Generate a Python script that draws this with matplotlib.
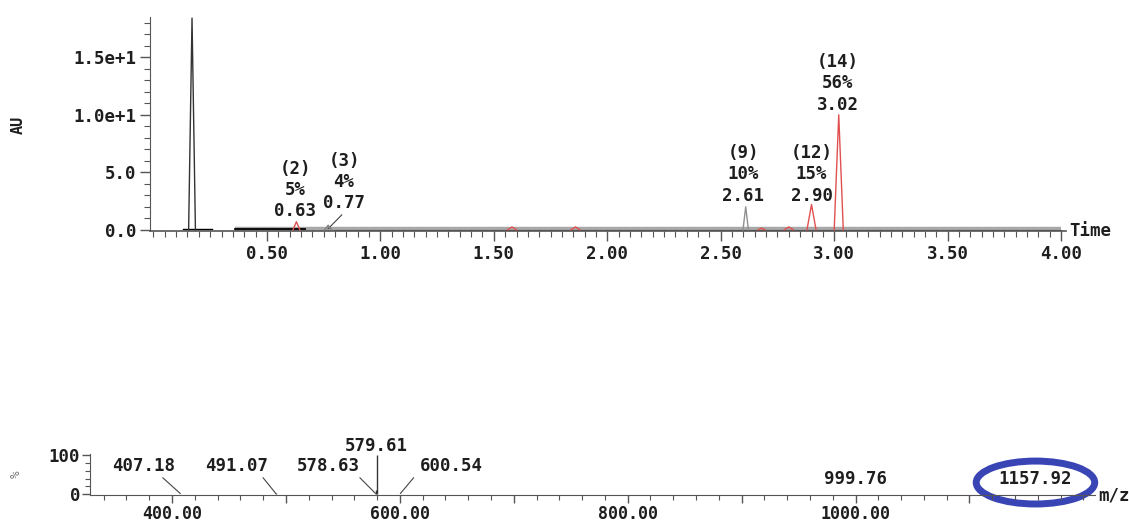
import matplotlib
matplotlib.use("Agg")
import matplotlib.pyplot as plt
from matplotlib.patches import Ellipse
from matplotlib.ticker import MultipleLocator, FixedLocator, FixedFormatter

# ---- chromatogram (UV trace, AU vs. retention time) ----
peak_times   = [0.17, 0.63, 0.77, 1.58, 1.86, 2.61, 2.68, 2.80, 2.90, 3.02]
peak_heights = [18.4, 0.7, 0.4, 0.25, 0.25, 2.0, 0.15, 0.25, 2.2, 10.0]
peak_halfw   = [0.015, 0.015, 0.015, 0.02, 0.02, 0.012, 0.015, 0.02, 0.02, 0.02]
peak_colors  = ["#333333", "#e05050", "#808080", "#e05050", "#e05050",
                "#909090", "#e05050", "#e05050", "#e05050", "#e05050"]

# annotated peaks: number, area %, retention time label, label anchor (time)
ann_ids    = ["(2)", "(3)", "(9)", "(12)", "(14)"]
ann_pct    = ["5%", "4%", "10%", "15%", "56%"]
ann_rt     = ["0.63", "0.77", "2.61", "2.90", "3.02"]
ann_x      = [0.625, 0.84, 2.60, 2.90, 3.015]
ann_y      = [0.85, 1.55, 2.2, 2.2, 10.1]

time_ticks = [0.50, 1.00, 1.50, 2.00, 2.50, 3.00, 3.50, 4.00]
au_ticks   = [0.0, 5.0, 10.0, 15.0]
au_labels  = ["0.0", "5.0", "1.0e+1", "1.5e+1"]

# ---- mass spectrum (% vs. m/z) ----
mz_values  = [407.18, 491.07, 578.63, 579.61, 600.54, 999.76, 1157.92]
mz_int     = [1.5, 2.0, 12.0, 100.0, 1.5, 1.0, 1.5]
mz_lab_x   = [375, 457, 537, 579.61, 645, 999.76, 1157.92]
mz_lab_y   = [48, 48, 48, 100, 48, 16, 16]
mz_ticks   = [400.00, 500.00, 600.00, 700.00, 800.00, 900.00, 1000.00, 1100.00]
mz_tick_labels = ["400.00", "", "600.00", "", "800.00", "", "1000.00", ""]

FONT = "DejaVu Sans Mono"
fs = 12.5
TXT = "#1e1e1e"

fig = plt.figure(figsize=(11.29, 5.22), dpi=100)

# top panel
ax = fig.add_axes([0.1329, 0.5575, 0.811, 0.410])
ax.set_xlim(-0.015, 4.02)
ax.set_ylim(-0.1, 18.5)

# baseline band and thin black baseline
ax.plot([0.36, 4.0], [0.05, 0.05], color="#a8a8a8", lw=3.2, solid_capstyle="butt", zorder=1)
ax.plot([0.13, 0.26], [0.1, 0.1], color="black", lw=1.0, zorder=2)
ax.plot([0.36, 0.67], [0.1, 0.1], color="black", lw=1.3, zorder=2)
ax.plot([0.8, 4.0], [0.0, 0.0], color="#444444", lw=0.8, zorder=2)

for t, h, w, c in zip(peak_times, peak_heights, peak_halfw, peak_colors):
    ax.plot([t - w, t, t + w], [0, h, 0], color=c, lw=1.0, zorder=3)

for pid, pct, rt, x, y in zip(ann_ids, ann_pct, ann_rt, ann_x, ann_y):
    ax.text(x, y, f"{pid}\n{pct}\n{rt}", ha="center", va="bottom",
            fontsize=fs, family=FONT, fontweight="bold", color=TXT,
            linespacing=1.23, zorder=4)

# leader for the 0.77 peak label
ax.plot([0.77, 0.83], [0.1, 1.3], color="#444444", lw=0.8)

ax.spines["top"].set_visible(False)
ax.spines["right"].set_visible(False)
ax.spines["left"].set_color("#555555")
ax.spines["bottom"].set_color("#555555")
ax.spines["bottom"].set_linewidth(1.2)
ax.xaxis.set_major_locator(FixedLocator(time_ticks))
ax.xaxis.set_major_formatter(FixedFormatter([f"{t:.2f}" for t in time_ticks]))
ax.xaxis.set_minor_locator(MultipleLocator(0.05))
ax.yaxis.set_major_locator(FixedLocator(au_ticks))
ax.yaxis.set_major_formatter(FixedFormatter(au_labels))
ax.yaxis.set_minor_locator(MultipleLocator(1.0))
ax.tick_params(axis="both", which="major", length=7, width=1.0, color="#555555",
               labelsize=fs, pad=3, labelcolor=TXT)
ax.tick_params(axis="both", which="minor", length=4, width=0.8, color="#555555")
for lab in ax.get_xticklabels() + ax.get_yticklabels():
    lab.set_family(FONT)
    lab.set_fontweight("bold")
ax.text(1.004, 0.0, "Time", transform=ax.transAxes, ha="left", va="center",
        family=FONT, fontweight="bold", fontsize=fs, color=TXT)
fig.text(18 / 1129, 1 - 125 / 522, "AU", rotation=90, ha="center", va="center",
         family=FONT, fontweight="bold", fontsize=11, color=TXT)

# bottom panel
bx = fig.add_axes([0.0797, 0.0517, 0.890, 0.0785])
bx.set_xlim(328, 1210)
bx.set_ylim(-2, 103)
bx.vlines(mz_values, 0, mz_int, color="#333333", lw=1.0)

for mz, lx, ly in zip(mz_values, mz_lab_x, mz_lab_y):
    bx.text(lx, ly, f"{mz:.2f}", ha="center", va="bottom", family=FONT,
            fontweight="bold", fontsize=fs, color=TXT)
# leaders from labels to the small peaks
for mz, lx in [(407.18, 392), (491.07, 480), (578.63, 565), (600.54, 612)]:
    bx.plot([lx, mz], [42, 2], color="#444444", lw=0.8)

bx.add_patch(Ellipse((1157.92, 30), width=104, height=110, fill=False,
                     edgecolor="#3a45b5", lw=5, clip_on=False))

bx.spines["top"].set_visible(False)
bx.spines["right"].set_visible(False)
bx.spines["left"].set_color("#555555")
bx.spines["bottom"].set_color("#555555")
bx.xaxis.set_major_locator(FixedLocator(mz_ticks))
bx.xaxis.set_major_formatter(FixedFormatter(mz_tick_labels))
bx.xaxis.set_minor_locator(MultipleLocator(20))
bx.yaxis.set_major_locator(FixedLocator([0, 100]))
bx.yaxis.set_major_formatter(FixedFormatter(["0", "100"]))
bx.yaxis.set_minor_locator(MultipleLocator(20))
bx.tick_params(axis="both", which="major", length=6, width=1.0, color="#555555",
               labelsize=12, pad=1, labelcolor=TXT)
bx.tick_params(axis="y", which="major", pad=1, labelsize=fs)
bx.tick_params(axis="both", which="minor", length=3.5, width=0.8, color="#555555")
for lab in bx.get_xticklabels() + bx.get_yticklabels():
    lab.set_family(FONT)
    lab.set_fontweight("bold")
bx.text(1.003, 0.0, "m/z", transform=bx.transAxes, ha="left", va="center",
        family=FONT, fontweight="bold", fontsize=fs, color=TXT)
fig.text(16 / 1129, 1 - 474 / 522, "%", rotation=90, ha="center", va="center",
         family=FONT, fontsize=9, color="#777777")

fig.savefig("out.png", dpi=100, facecolor="white")
